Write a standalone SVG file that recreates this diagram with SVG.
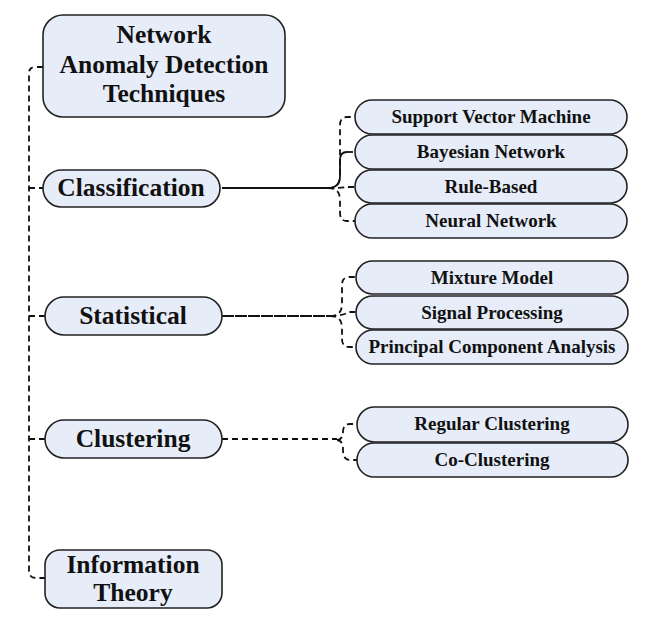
<svg xmlns="http://www.w3.org/2000/svg" width="668" height="622" viewBox="0 0 668 622">
<style>
.box{fill:#e7edf8;stroke:#222;stroke-width:1.6}
.t{font-family:"Liberation Serif",serif;font-weight:bold;fill:#111;text-anchor:middle}
.big{font-size:25.5px}
.sm{font-size:19px}
.c{fill:none;stroke:#111;stroke-width:1.8}
.d{stroke-dasharray:6,4}
.dd{stroke-dasharray:12,1}
</style>
<rect width="668" height="622" fill="#fff"/>
<g id="connectors">
<path class="c d" d="M43,67 H35 Q29,67 29,73 V571 Q29,578 36,578 H45"/>
<path class="c d" d="M29,188 H43 M29,316 H45 M29,439 H45"/>
<path class="c" d="M222,188 H328"/>
<path class="c d" d="M328,188 C336,188 340,184 340,176 V125 Q340,117 347,117 H355"/>
<path class="c" d="M328,188 C336,188 340,184 340,176 V160 Q340,152 347,152"/>
<path class="c d" d="M347,152 H355"/>
<path class="c d" d="M328,188 Q340,188 347,187 H355"/>
<path class="c d" d="M328,188 C336,188 340,192 340,200 V213 Q340,221 347,221 H355"/>
<path class="c dd" d="M222,316 H330"/>
<path class="c d" d="M330,316 C338,316 342,312 342,304 V285 Q342,277 349,277 H356"/>
<path class="c d" d="M330,316 Q342,316 349,312 H356"/>
<path class="c d" d="M330,316 C338,316 342,320 342,328 V339 Q342,347 349,347 H356"/>
<path class="c d" d="M222,439 H337"/>
<path class="c d" d="M337,440 C341,440 343,436 343,432 Q343,424 350,424 H357"/>
<path class="c d" d="M337,440 C341,440 343,444 343,450 Q343,460 350,460 H357"/>
</g>
<g id="root">
<rect class="box" x="43" y="15" width="242" height="102" rx="20"/>
<text class="t big" x="164" y="43">Network</text>
<text class="t big" x="164" y="73">Anomaly Detection</text>
<text class="t big" x="164" y="102">Techniques</text>
</g>
<g id="classification">
<rect class="box" x="43" y="170" width="177" height="37" rx="18.5"/>
<text class="t big" x="131" y="196">Classification</text>
</g>
<g id="statistical">
<rect class="box" x="45" y="297" width="177" height="38" rx="19"/>
<text class="t big" x="133" y="324">Statistical</text>
</g>
<g id="clustering">
<rect class="box" x="45" y="420" width="177" height="38" rx="19"/>
<text class="t big" x="133" y="447">Clustering</text>
</g>
<g id="information-theory">
<rect class="box" x="45" y="550" width="177" height="58" rx="15"/>
<text class="t big" x="133" y="573">Information</text>
<text class="t big" x="133" y="601">Theory</text>
</g>
<g id="svm"><rect class="box" x="355" y="100" width="272" height="34" rx="17"/><text class="t sm" x="491" y="123">Support Vector Machine</text></g>
<g id="bayesian"><rect class="box" x="355" y="135" width="272" height="34" rx="17"/><text class="t sm" x="491" y="158">Bayesian Network</text></g>
<g id="rule-based"><rect class="box" x="355" y="170" width="272" height="33" rx="16.5"/><text class="t sm" x="491" y="193">Rule-Based</text></g>
<g id="neural"><rect class="box" x="355" y="204" width="272" height="34" rx="17"/><text class="t sm" x="491" y="227">Neural Network</text></g>
<g id="mixture"><rect class="box" x="356" y="261" width="272" height="33" rx="16.5"/><text class="t sm" x="492" y="284">Mixture Model</text></g>
<g id="signal"><rect class="box" x="356" y="296" width="272" height="33" rx="16.5"/><text class="t sm" x="492" y="319">Signal Processing</text></g>
<g id="pca"><rect class="box" x="356" y="330" width="272" height="34" rx="17"/><text class="t sm" x="492" y="353">Principal Component Analysis</text></g>
<g id="regular-clustering"><rect class="box" x="357" y="407" width="271" height="35" rx="17.5"/><text class="t sm" x="492" y="430">Regular Clustering</text></g>
<g id="co-clustering"><rect class="box" x="357" y="443" width="271" height="34" rx="17"/><text class="t sm" x="492" y="466">Co-Clustering</text></g>
</svg>
